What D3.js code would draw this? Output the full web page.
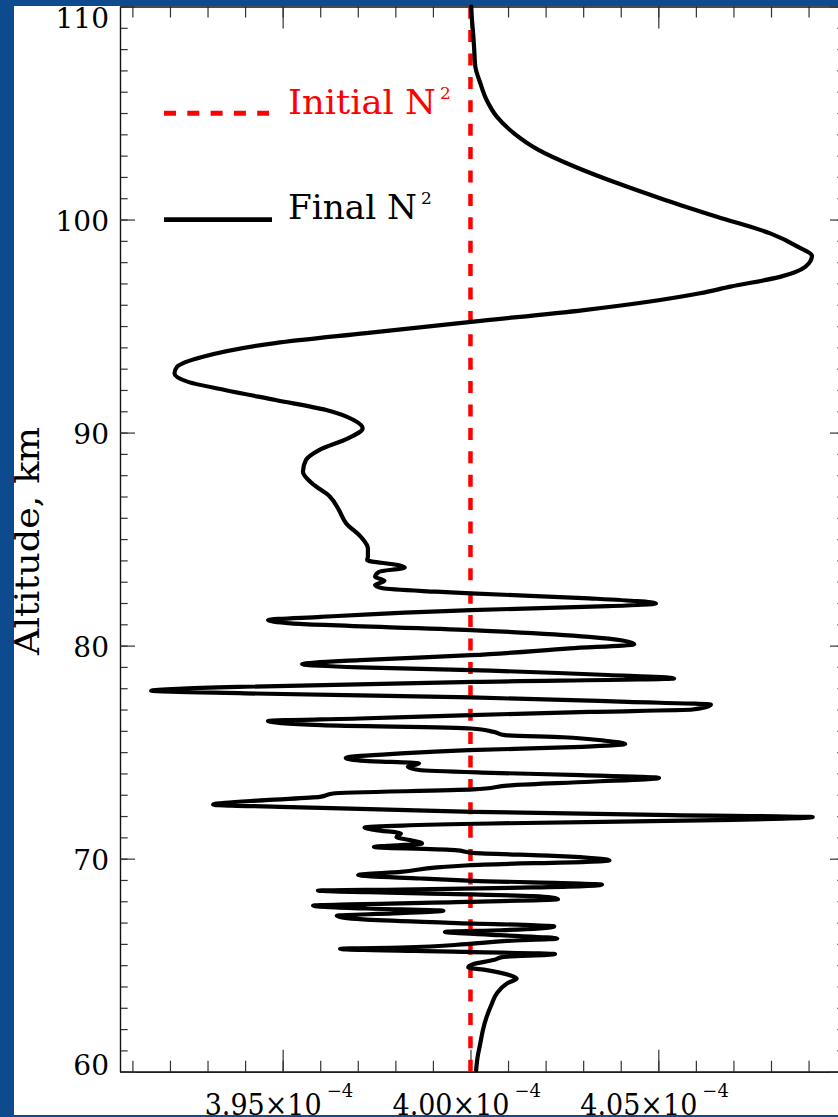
<!DOCTYPE html>
<html>
<head>
<meta charset="utf-8">
<script src="https://cdn.jsdelivr.net/npm/d3@7"></script>
<style>
    body { margin: 0; background: #0e4a8e; }
    svg { display: block; }
    text { font-family: "DejaVu Serif", serif; }
</style>
</head>
<body>
<div id="chart"></div>
<script>
// Final N^2 profile (N^2 in units of 1e-4 s^-2, altitude in km)
var altitude = [110.00, 109.37, 108.76, 107.96, 107.17, 106.41, 105.61, 104.83, 104.06, 103.26,
    102.48, 101.70, 100.92, 100.13, 99.35, 98.72, 98.29, 97.78, 97.31, 96.85,
    96.54, 95.75, 95.20, 94.67, 94.20, 93.56, 93.09, 92.78, 92.38, 92.00,
    91.53, 91.06, 90.59, 90.20, 89.73, 89.18, 88.71, 88.16, 87.62, 86.99,
    86.36, 85.74, 85.11, 84.56, 84.17, 84.01, 83.78, 83.67, 83.46, 83.23,
    83.04, 82.84, 82.69, 82.53, 82.45, 82.22, 81.98, 81.85, 81.67, 81.35,
    81.20, 81.04, 80.73, 80.41, 80.07, 79.87, 79.55, 79.32, 79.13, 78.98,
    78.85, 78.62, 78.46, 78.30, 78.07, 77.88, 77.76, 77.57, 77.36, 77.23,
    77.00, 76.89, 76.74, 76.58, 76.46, 76.27, 76.11, 75.95, 75.80, 75.70,
    75.54, 75.38, 75.25, 75.09, 74.94, 74.73, 74.59, 74.47, 74.31, 74.16,
    74.03, 73.92, 73.79, 73.61, 73.45, 73.25, 73.06, 72.90, 72.75, 72.54,
    72.40, 72.20, 72.04, 71.95, 71.81, 71.65, 71.46, 71.34, 71.18, 71.02,
    70.87, 70.71, 70.55, 70.40, 70.27, 70.12, 69.92, 69.69, 69.59, 69.38,
    69.23, 69.07, 68.96, 68.78, 68.65, 68.55, 68.50, 68.39, 68.24, 68.10,
    67.97, 67.79, 67.66, 67.56, 67.43, 67.32, 67.15, 66.99, 66.82, 66.64,
    66.56, 66.41, 66.25, 66.14, 65.99, 65.83, 65.77, 65.62, 65.52, 65.39,
    65.24, 65.05, 64.89, 64.77, 64.53, 64.38, 64.14, 63.67, 63.20, 62.57,
    61.95, 61.32, 60.69, 60.07];

var finalN2 = [4.0002, 4.0004, 4.0007, 4.0010, 4.0013, 4.0026, 4.0043, 4.0070, 4.0115, 4.0182,
    4.0278, 4.0392, 4.0518, 4.0656, 4.0798, 4.0872, 4.0909, 4.0891, 4.0824, 4.0692,
    4.0611, 4.0302, 4.0002, 3.9722, 3.9480, 3.9288, 3.9219, 3.9212, 3.9248, 3.9346,
    3.9481, 3.9616, 3.9689, 3.9713, 3.9674, 3.9597, 3.9562, 3.9554, 3.9578, 3.9626,
    3.9650, 3.9669, 3.9708, 3.9727, 3.9727, 3.9725, 3.9807, 3.9825, 3.9756, 3.9746,
    3.9771, 3.9746, 3.9766, 3.9908, 4.0001, 4.0316, 4.0494, 4.0366, 4.0001, 3.9602,
    3.9461, 3.9522, 4.0001, 4.0316, 4.0436, 4.0265, 4.0001, 3.9705, 3.9552, 3.9705,
    4.0001, 4.0366, 4.0542, 4.0010, 3.9400, 3.9150, 3.9400, 4.0001, 4.0418, 4.0640,
    4.0591, 4.0316, 4.0001, 3.9705, 3.9461, 3.9602, 4.0001, 4.0062, 4.0092, 4.0247,
    4.0356, 4.0412, 4.0296, 3.9995, 3.9815, 3.9668, 3.9719, 3.9863, 3.9833, 3.9863,
    4.0055, 4.0296, 4.0502, 4.0320, 4.0115, 4.0007, 3.9634, 3.9599, 3.9454, 3.9315,
    3.9575, 4.0007, 4.0536, 4.0911, 4.0656, 4.0055, 3.9718, 3.9749, 3.9815, 3.9803,
    3.9839, 3.9871, 3.9743, 3.9959, 4.0007, 4.0236, 4.0370, 3.9995, 3.9911, 3.9815,
    3.9701, 3.9866, 4.0007, 4.0350, 4.0167, 3.9813, 3.9594, 3.9813, 4.0167, 4.0233,
    3.9990, 3.9581, 3.9724, 3.9928, 3.9794, 3.9644, 3.9714, 3.9946, 4.0223, 4.0079,
    3.9932, 4.0079, 4.0231, 4.0097, 3.9990, 3.9813, 3.9653, 3.9990, 4.0225, 4.0088,
    4.0061, 4.0008, 3.9994, 4.0043, 4.0105, 4.0123, 4.0097, 4.0070, 4.0057, 4.0043,
    4.0033, 4.0026, 4.0019, 4.0015];

// Initial N^2 profile (constant), drawn bottom to top
var initialAlt = [60, 110];
var initialN2 = [4.00, 4.00];

// Axis ticks
var xMajorTicks = [3.95, 4.00, 4.05];
var xTickLabels = ["3.95×10", "4.00×10", "4.05×10"];
var xExponent = "−4";
var yMajorTicks = [60, 70, 80, 90, 100, 110];

var svgWidth = 838;
var svgHeight = 1117;

var plot = { left: 120, right: 845, top: 6.5, bottom: 1071.7 };

var svg = d3.select("#chart")
    .append("svg")
    .attr("width", svgWidth)
    .attr("height", svgHeight);

// slide background + white panel
svg.append("rect")
    .attr("width", svgWidth)
    .attr("height", svgHeight)
    .attr("fill", "#0e4a8e");
svg.append("rect")
    .attr("x", 14)
    .attr("y", 6)
    .attr("width", svgWidth - 14)
    .attr("height", 1109)
    .attr("fill", "#ffffff");

var xScale = d3.scaleLinear()
    .domain([3.9067, 4.0997])
    .range([plot.left, plot.right]);

var yScale = d3.scaleLinear()
    .domain([60, 110])
    .range([plot.bottom, plot.top]);

var xMinor = d3.range(391, 410).map(d => d / 100);
var yMinor = d3.range(60, 111);

function styleAxis(g) {
    g.select(".domain").attr("stroke", "#111").attr("stroke-width", 1.2);
    g.selectAll(".tick line").attr("stroke", "#333").attr("stroke-width", 1.2);
    g.selectAll(".tick text").remove();
}

[[xMinor, 11], [xMajorTicks, 22]].forEach(function(t) {
    // bottom (ticks point up)
    svg.append("g")
        .attr("transform", `translate(0, ${plot.bottom})`)
        .call(d3.axisTop(xScale).tickValues(t[0]).tickSize(t[1]).tickSizeOuter(0))
        .call(styleAxis);
    // top (ticks point down)
    svg.append("g")
        .attr("transform", `translate(0, ${plot.top})`)
        .call(d3.axisBottom(xScale).tickValues(t[0]).tickSize(t[1]).tickSizeOuter(0))
        .call(styleAxis);
});

[[yMinor, 7.7], [yMajorTicks, 15]].forEach(function(t) {
    // left (ticks point right)
    svg.append("g")
        .attr("transform", `translate(${plot.left}, 0)`)
        .call(d3.axisRight(yScale).tickValues(t[0]).tickSize(t[1]).tickSizeOuter(0))
        .call(styleAxis);
    // right (ticks point left)
    svg.append("g")
        .attr("transform", `translate(${plot.right}, 0)`)
        .call(d3.axisLeft(yScale).tickValues(t[0]).tickSize(t[1]).tickSizeOuter(0))
        .call(styleAxis);
});

// y tick labels; the end labels are kept inside the panel
svg.append("g").selectAll("text")
    .data(yMajorTicks)
    .enter()
    .append("text")
    .attr("x", 109)
    .attr("y", d => Math.min(Math.max(yScale(d), 16.8), 1063) + 11.5)
    .attr("text-anchor", "end")
    .attr("font-size", 28)
    .attr("fill", "#000")
    .text(d => d);

// y axis title
svg.append("text")
    .attr("transform", "translate(39, 541) rotate(-90)")
    .attr("text-anchor", "middle")
    .attr("font-size", 33)
    .attr("textLength", 228)
    .attr("lengthAdjust", "spacingAndGlyphs")
    .attr("fill", "#000")
    .text("Altitude, km");

// curves
var line = d3.line()
    .x(d => xScale(d[0]))
    .y(d => yScale(d[1]));

svg.append("path")
    .datum(d3.zip(initialN2, initialAlt))
    .attr("d", line)
    .attr("fill", "none")
    .attr("stroke", "#ff0000")
    .attr("stroke-width", 4.5)
    .attr("stroke-dasharray", "12,11.4");

svg.append("path")
    .datum(d3.zip(finalN2, altitude))
    .attr("d", line.curve(d3.curveMonotoneY))
    .attr("fill", "none")
    .attr("stroke", "#000")
    .attr("stroke-width", 4.2)
    .attr("stroke-linejoin", "round")
    .attr("stroke-linecap", "round");

// legend
var legend = svg.append("g");
legend.append("line")
    .attr("x1", 164).attr("x2", 269)
    .attr("y1", 113.3).attr("y2", 113.3)
    .attr("stroke", "#ff0000")
    .attr("stroke-width", 5)
    .attr("stroke-dasharray", "12,11.3");
legend.append("line")
    .attr("x1", 164).attr("x2", 272)
    .attr("y1", 219.7).attr("y2", 219.7)
    .attr("stroke", "#000")
    .attr("stroke-width", 4.7);

var legendItems = [
    { label: "Initial N", color: "#ff0000", y: 114, len: 148 },
    { label: "Final N", color: "#000", y: 219, len: 129 }
];
legendItems.forEach(function(item) {
    var t = legend.append("text")
        .attr("x", 288)
        .attr("y", item.y)
        .attr("fill", item.color);
    t.append("tspan")
        .attr("font-size", 33)
        .attr("textLength", item.len)
        .attr("lengthAdjust", "spacingAndGlyphs")
        .text(item.label);
    t.append("tspan")
        .attr("dx", 4)
        .attr("dy", -15)
        .attr("font-size", 17)
        .text("2");
});

// x tick labels (mantissa + exponent)
var xLabels = svg.append("g");
xMajorTicks.forEach(function(v, i) {
    var t = xLabels.append("text")
        .attr("x", xScale(v) - 78)
        .attr("y", 1115)
        .attr("fill", "#000");
    t.append("tspan")
        .attr("font-size", 30)
        .attr("textLength", 117)
        .attr("lengthAdjust", "spacingAndGlyphs")
        .text(xTickLabels[i]);
    t.append("tspan")
        .attr("dx", 5)
        .attr("dy", -18)
        .attr("font-size", 18)
        .text(xExponent);
});

// bottom edge of the slide background over the labels
svg.append("rect")
    .attr("x", 0)
    .attr("y", 1115)
    .attr("width", svgWidth)
    .attr("height", 2)
    .attr("fill", "#0e4a8e");
</script>
</body>
</html>
